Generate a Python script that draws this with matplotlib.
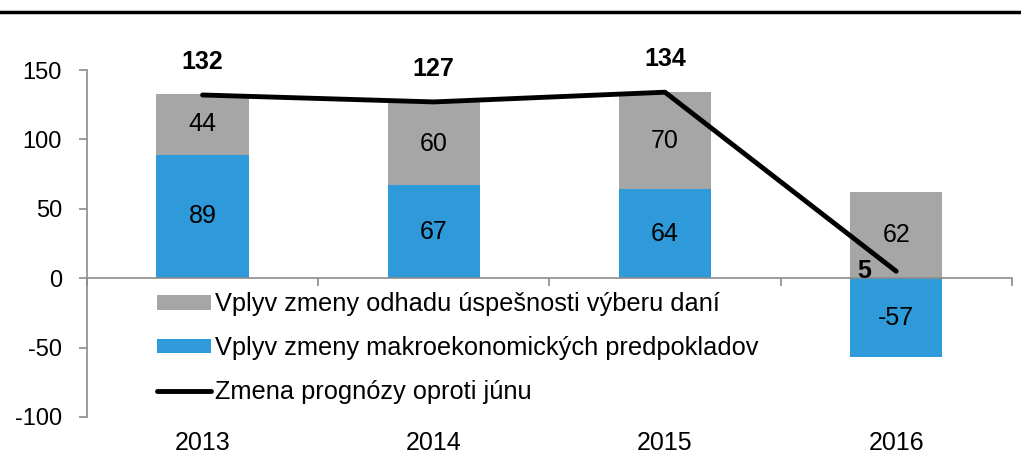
import numpy as np
import matplotlib
matplotlib.use('Agg')
import matplotlib.pyplot as plt
from matplotlib.lines import Line2D
from matplotlib.transforms import blended_transform_factory

years = ['2013', '2014', '2015', '2016']
makro = [89, 67, 64, -57]
uspesnost = [44, 60, 70, 62]
zmena = [132, 127, 134, 5]

lab_usp = 'Vplyv zmeny odhadu úspešnosti výberu daní'
lab_makro = 'Vplyv zmeny makroekonomických predpokladov'
lab_zmena = 'Zmena prognózy oproti júnu'

plt.rcParams['font.family'] = ['Liberation Sans', 'DejaVu Sans']
plt.rcParams['axes.unicode_minus'] = False

gray = '#a6a6a6'
blue = '#2e9ad9'
axcol = '#8c8c8c'

fig = plt.figure(figsize=(10.21, 4.73), dpi=100)
ax = fig.add_axes([0.0852, 0.1184, 0.9058, 0.7336])

x = np.arange(len(years))
makro = np.array(makro)
uspesnost = np.array(uspesnost)
# gray stacks on blue when blue is positive, else starts from zero
bottom_usp = np.where(makro > 0, makro, 0)

ax.bar(x, makro, width=0.4, color=blue, label=lab_makro, zorder=2)
ax.bar(x, uspesnost, width=0.4, bottom=bottom_usp, color=gray, label=lab_usp, zorder=2)
ax.plot(x, zmena, color='black', lw=3.5, solid_capstyle='round', label=lab_zmena, zorder=3)

for i in range(len(years)):
    ax.text(x[i], makro[i] / 2, str(makro[i]), ha='center', va='center', fontsize=18, zorder=4)
    ax.text(x[i], bottom_usp[i] + uspesnost[i] / 2, str(uspesnost[i]), ha='center', va='center',
            fontsize=18, zorder=4)

for i in range(len(years)):
    if i == 3:
        ax.annotate(str(zmena[i]), (x[i], zmena[i]), xytext=(-23, 0), textcoords='offset points',
                    ha='center', va='center', fontsize=18, fontweight='bold', zorder=4)
    else:
        ax.annotate(str(zmena[i]), (x[i], zmena[i]), xytext=(0, 24), textcoords='offset points',
                    ha='center', va='center', fontsize=18, fontweight='bold', annotation_clip=False)

ax.set_xlim(-0.5, 3.5)
ax.set_ylim(-100, 150)
ax.set_yticks([-100, -50, 0, 50, 100, 150])
ax.tick_params(axis='y', labelsize=17, color=axcol, length=6, width=1.2, pad=12)

for s in ['top', 'right']:
    ax.spines[s].set_visible(False)
ax.spines['left'].set_color(axcol)
ax.spines['left'].set_linewidth(1.2)
ax.spines['bottom'].set_position(('data', 0))
ax.spines['bottom'].set_color(axcol)
ax.spines['bottom'].set_linewidth(1.2)
ax.set_xticks([-0.5, 0.5, 1.5, 2.5, 3.5])
ax.set_xticklabels([])
ax.tick_params(axis='x', color=axcol, length=6, width=1.2)

tr = blended_transform_factory(ax.transData, ax.transAxes)
for i, y in enumerate(years):
    ax.text(x[i], -0.075, y, transform=tr, ha='center', va='center', fontsize=18)

h, l = ax.get_legend_handles_labels()
order = [lab_usp, lab_makro, lab_zmena]
hs = [h[l.index(o)] for o in order]
leg = ax.legend(hs, order, loc='upper left', bbox_to_anchor=(0.076, 0.359), frameon=False,
                fontsize=18.3, handlelength=2.1, handleheight=0.5, handletextpad=0.17,
                labelspacing=0.78, borderaxespad=0, borderpad=0)

fig.add_artist(Line2D([0, 1], [0.975, 0.975], color='black', lw=2.5, transform=fig.transFigure))

fig.savefig('out.png', dpi=100)
